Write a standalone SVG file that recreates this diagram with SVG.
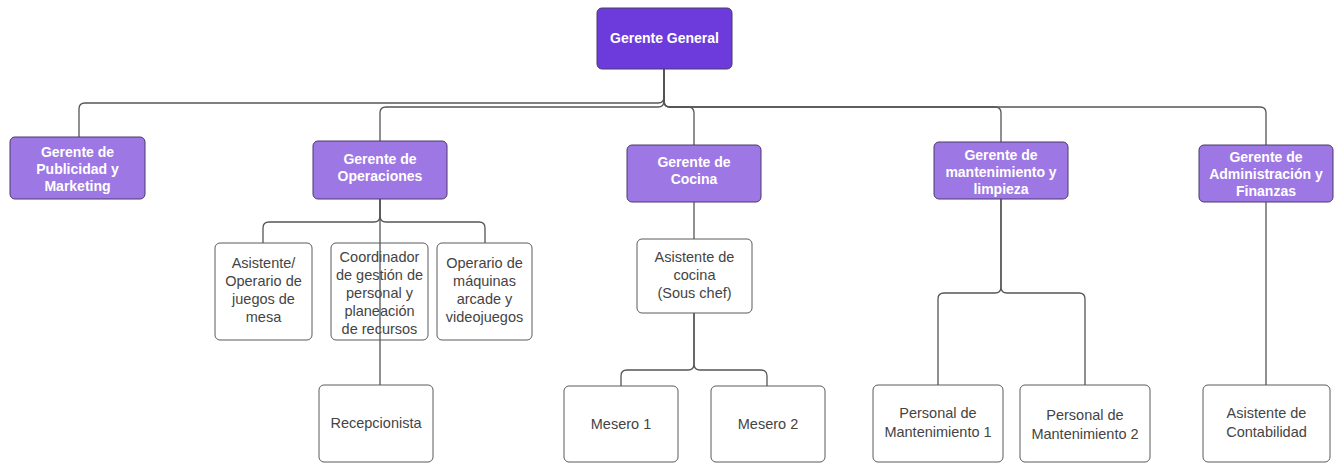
<svg xmlns="http://www.w3.org/2000/svg" width="1340" height="463" viewBox="0 0 1340 463">
  <style>
    .top { fill: #6d3bdb; stroke: #4a3a6a; stroke-width: 1; }
    .mgr { fill: #9d77e4; stroke: #4a3a6a; stroke-width: 1; }
    .staff { fill: #ffffff; stroke: #5a5a5a; stroke-width: 1; }
    .tb { font-family: "Liberation Sans", Arial, sans-serif; font-size: 14px; font-weight: bold; fill: #ffffff; text-anchor: middle; }
    .tr { font-family: "Liberation Sans", Arial, sans-serif; font-size: 14.5px; fill: #444444; text-anchor: middle; }
    .link { fill: none; stroke: #555555; stroke-width: 1.3; }
  </style>
  <rect width="1340" height="463" fill="#ffffff"/>

  <!-- connectors -->
  <g id="connectors" class="link">
    <path d="M664 69 V97 Q664 103 658 103 H85 Q79 103 79 109 V137"/>
    <path d="M664 69 V101 Q664 107 658 107 H386 Q380 107 380 113 V141"/>
    <path d="M664 69 V101 Q664 107 670 107 H688 Q694 107 694 113 V145"/>
    <path d="M664 69 V101 Q664 107 670 107 H995 Q1001 107 1001 113 V142"/>
    <path d="M664 69 V101 Q664 107 670 107 H1260 Q1266 107 1266 113 V145"/>

    <path d="M380 199 V216 Q380 222 374 222 H269 Q263 222 263 228 V243"/>
    <path d="M380 199 V216 Q380 222 386 222 H479 Q485 222 485 228 V243"/>

    <path d="M694 202 V239"/>
    <path d="M694 313 V364 Q694 370 688 370 H627 Q621 370 621 376 V386"/>
    <path d="M694 313 V364 Q694 370 700 370 H761 Q767 370 767 376 V386"/>

    <path d="M1001 199 V287 Q1001 293 995 293 H944 Q938 293 938 299 V385"/>
    <path d="M1001 199 V287 Q1001 293 1007 293 H1079 Q1085 293 1085 299 V385"/>

    <path d="M1266 202 V385"/>
  </g>

  <g id="gerente-general">
    <rect class="top" x="597" y="8" width="135" height="61" rx="5"/>
    <text class="tb" x="664.5" y="43">Gerente General</text>
  </g>

  <g id="gerente-publicidad">
    <rect class="mgr" x="10" y="137" width="135" height="62" rx="5"/>
    <text class="tb" x="77.5" y="157">Gerente de</text>
    <text class="tb" x="77.5" y="174">Publicidad y</text>
    <text class="tb" x="77.5" y="191">Marketing</text>
  </g>

  <g id="gerente-operaciones">
    <rect class="mgr" x="313" y="141" width="134" height="58" rx="5"/>
    <text class="tb" x="380" y="164">Gerente de</text>
    <text class="tb" x="380" y="181">Operaciones</text>
  </g>

  <g id="gerente-cocina">
    <rect class="mgr" x="627" y="145" width="134" height="57" rx="5"/>
    <text class="tb" x="694" y="167">Gerente de</text>
    <text class="tb" x="694" y="184">Cocina</text>
  </g>

  <g id="gerente-mantenimiento">
    <rect class="mgr" x="934" y="142" width="134" height="57" rx="5"/>
    <text class="tb" x="1001" y="160">Gerente de</text>
    <text class="tb" x="1001" y="177">mantenimiento y</text>
    <text class="tb" x="1001" y="194">limpieza</text>
  </g>

  <g id="gerente-administracion">
    <rect class="mgr" x="1199" y="145" width="134" height="57" rx="5"/>
    <text class="tb" x="1266" y="162">Gerente de</text>
    <text class="tb" x="1266" y="179">Administración y</text>
    <text class="tb" x="1266" y="196">Finanzas</text>
  </g>

  <g id="asistente-juegos">
    <rect class="staff" x="215" y="243" width="97" height="97" rx="5"/>
    <text class="tr" x="263.5" y="268">Asistente/</text>
    <text class="tr" x="263.5" y="286">Operario de</text>
    <text class="tr" x="263.5" y="304">juegos de</text>
    <text class="tr" x="263.5" y="322">mesa</text>
  </g>

  <g id="coordinador">
    <rect class="staff" x="331" y="243" width="97" height="97" rx="5"/>
    <text class="tr" x="379.5" y="262">Coordinador</text>
    <text class="tr" x="379.5" y="280">de gestión de</text>
    <text class="tr" x="379.5" y="298">personal y</text>
    <text class="tr" x="379.5" y="316">planeación</text>
    <text class="tr" x="379.5" y="334">de recursos</text>
  </g>

  <g id="operario-arcade">
    <rect class="staff" x="437" y="243" width="95" height="97" rx="5"/>
    <text class="tr" x="484.5" y="268">Operario de</text>
    <text class="tr" x="484.5" y="286">máquinas</text>
    <text class="tr" x="484.5" y="304">arcade y</text>
    <text class="tr" x="484.5" y="322">videojuegos</text>
  </g>

  <g id="recepcionista">
    <rect class="staff" x="319" y="385" width="114" height="77" rx="5"/>
    <text class="tr" x="376" y="428">Recepcionista</text>
  </g>

  <g id="asistente-cocina">
    <rect class="staff" x="637" y="239" width="115" height="74" rx="5"/>
    <text class="tr" x="694.5" y="262">Asistente de</text>
    <text class="tr" x="694.5" y="280">cocina</text>
    <text class="tr" x="694.5" y="298">(Sous chef)</text>
  </g>

  <g id="mesero-1">
    <rect class="staff" x="564" y="386" width="114" height="76" rx="5"/>
    <text class="tr" x="621" y="429">Mesero 1</text>
  </g>

  <g id="mesero-2">
    <rect class="staff" x="711" y="386" width="114" height="76" rx="5"/>
    <text class="tr" x="768" y="429">Mesero 2</text>
  </g>

  <g id="personal-mantenimiento-1">
    <rect class="staff" x="873" y="385" width="130" height="77" rx="5"/>
    <text class="tr" x="938" y="418">Personal de</text>
    <text class="tr" x="938" y="437">Mantenimiento 1</text>
  </g>

  <g id="personal-mantenimiento-2">
    <rect class="staff" x="1020" y="385" width="130" height="77" rx="5"/>
    <text class="tr" x="1085" y="420">Personal de</text>
    <text class="tr" x="1085" y="439">Mantenimiento 2</text>
  </g>

  <g id="asistente-contabilidad">
    <rect class="staff" x="1203" y="385" width="127" height="77" rx="5"/>
    <text class="tr" x="1266.5" y="418">Asistente de</text>
    <text class="tr" x="1266.5" y="437">Contabilidad</text>
  </g>

  <!-- the Operaciones-to-Recepcionista link runs across the Coordinador box -->
  <g id="connectors-over" class="link">
    <path d="M380 199 V385"/>
  </g>
</svg>
